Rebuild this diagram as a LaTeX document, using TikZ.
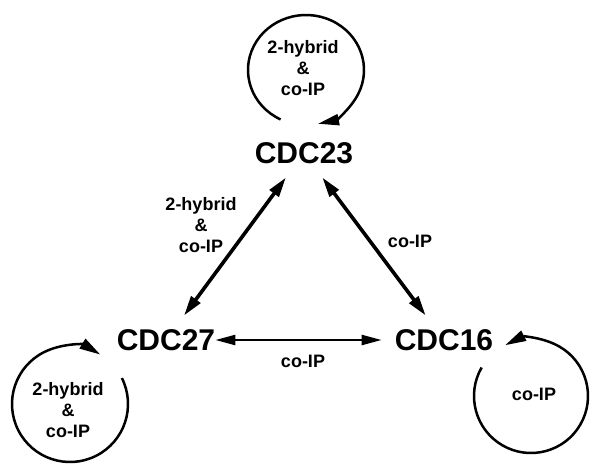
\documentclass[tikz,border=0pt]{standalone}
\usepackage{fontspec}
\setmainfont{Liberation Sans}
\usetikzlibrary{arrows.meta,calc}
\tikzset{
  big/.style={font=\fontsize{30}{30}\selectfont\bfseries, inner xsep=0pt, inner ysep=13.5pt, text height=21.5pt, text depth=0pt},
  lab/.style={font=\fontsize{18}{21}\selectfont\bfseries, align=center, inner sep=0pt},
  edge/.style={{Triangle[length=20pt,width=11pt]}-{Triangle[length=20pt,width=11pt]}, line width=3.6pt},
  hedge/.style={{Triangle[length=20pt,width=10pt]}-{Triangle[length=20pt,width=10pt]}, line width=2.4pt},
  loopline/.style={-{Triangle[length=21pt,width=11pt]}, line width=2.5pt}
}
\begin{document}
\begin{tikzpicture}[x=1pt,y=1pt]
\useasboundingbox (0,0) rectangle (590,-467);
% main nodes
\node[big] (cdc23) at (304,-153) {CDC23};
\node[big] (cdc27) at (166,-340) {CDC27};
\node[big] (cdc16) at (444,-340) {CDC16};
% edge labels
\node[lab] (e1) at (201,-225) {2-hybrid\\\&\\co-IP};
\node[lab] (e2) at (410,-241) {co-IP};
\node[lab] (e3) at (303,-361) {co-IP};
% loop labels
\node[lab] (l23) at (303,-68) {2-hybrid\\\&\\co-IP};
\node[lab] (l27) at (68,-410) {2-hybrid\\\&\\co-IP};
\node[lab] (l16) at (534,-394) {co-IP};
% edges
\draw[edge] (cdc23) -- (cdc27);
\draw[edge] (cdc23) -- (cdc16);
\draw[hedge, shorten >=13pt] (cdc27) -- (cdc16);
% self loops
\coordinate (c23) at (306,-70);
\coordinate (c27) at (70,-404);
\coordinate (c16) at (531,-396);
\draw[loopline] (c23) ++(244:58 and 55) arc[start angle=244, end angle=-78, x radius=58, y radius=55];
\draw[loopline] (c27) ++(26.6:58) arc[start angle=26.6, end angle=-301.5, radius=58];
\draw[loopline] (c16) ++(150:57) arc[start angle=150, end angle=477, radius=57];
\end{tikzpicture}
\end{document}
